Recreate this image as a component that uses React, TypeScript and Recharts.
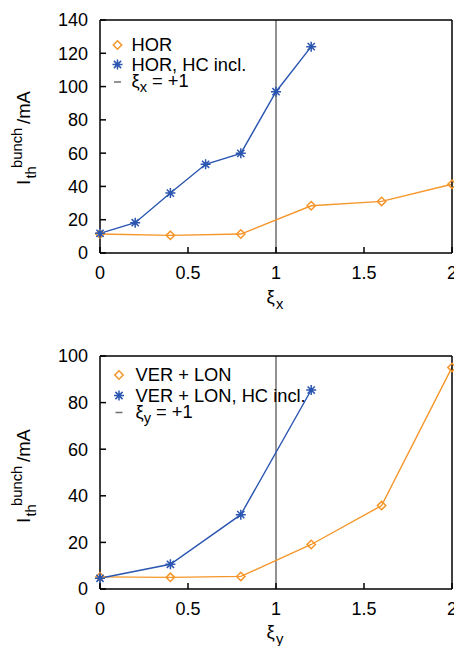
import { LineChart, Line, XAxis, YAxis, ReferenceLine } from "recharts";

// top panel: horizontal
const horX = [0, 0.4, 0.8, 1.2, 1.6, 2.0];
const horI = [11.4, 10.6, 11.4, 28.4, 31, 41.3];
const horHcX = [0, 0.2, 0.4, 0.6, 0.8, 1.0, 1.2];
const horHcI = [11.8, 18.2, 36, 53.3, 59.9, 96.9, 124];

// bottom panel: vertical + longitudinal
const verX = [0, 0.4, 0.8, 1.2, 1.6, 2.0];
const verI = [5.2, 5.0, 5.4, 19.1, 35.8, 95.1];
const verHcX = [0, 0.4, 0.8, 1.2];
const verHcI = [4.6, 10.6, 31.9, 85.4];

const xTicks = [0, 0.5, 1, 1.5, 2];
const yTicksTop = [0, 20, 40, 60, 80, 100, 120, 140];
const yTicksBottom = [0, 20, 40, 60, 80, 100];

const ORANGE = "#f5962a";
const BLUE = "#2a55b0";
const GREY = "#6f6f6f";
const FONT = "'Liberation Sans', Arial, Helvetica, sans-serif";

const zip = (xs: number[], ys: number[]) => xs.map((x, i) => ({ x, y: ys[i] }));

const tickFont = { fill: "#000", fontSize: 18, fontFamily: FONT };
const frame = { stroke: "#000", strokeWidth: 1.5 };

const diamond = (props: any) => {
  const { cx, cy, index } = props;
  const r = 4.2;
  return (
    <path
      key={`dm-${index}`}
      d={`M${cx},${cy - r}L${cx + r},${cy}L${cx},${cy + r}L${cx - r},${cy}Z`}
      fill="none"
      stroke={ORANGE}
      strokeWidth={1.5}
    />
  );
};

const star = (props: any) => {
  const { cx, cy, index } = props;
  const r = 5;
  const d = 3.6;
  return (
    <path
      key={`st-${index}`}
      d={`M${cx - r},${cy}H${cx + r}M${cx},${cy - r}V${cy + r}M${cx - d},${cy - d}L${cx + d},${cy + d}M${cx - d},${cy + d}L${cx + d},${cy - d}`}
      stroke={BLUE}
      strokeWidth={1.5}
    />
  );
};

function Panel(props: {
  top: number;
  height: number;
  marginTop: number;
  marginBottom: number;
  yMax: number;
  yTicks: number[];
  a: { x: number; y: number }[];
  b: { x: number; y: number }[];
}) {
  return (
    <div style={{ position: "absolute", left: 0, top: props.top }}>
      <LineChart
        width={470}
        height={props.height}
        margin={{ top: props.marginTop, right: 17, bottom: props.marginBottom, left: 40 }}
      >
        <XAxis
          type="number"
          dataKey="x"
          domain={[0, 2]}
          ticks={xTicks}
          interval={0}
          tickSize={-6}
          tickMargin={19}
          height={30}
          axisLine={frame}
          tickLine={frame}
          tick={tickFont}
        />
        <XAxis
          xAxisId="top"
          orientation="top"
          type="number"
          domain={[0, 2]}
          ticks={xTicks}
          interval={0}
          tickSize={-6}
          height={1}
          axisLine={frame}
          tickLine={frame}
          tick={false}
        />
        <YAxis
          type="number"
          domain={[0, props.yMax]}
          ticks={props.yTicks}
          interval={0}
          tickSize={-6}
          tickMargin={18}
          width={60}
          axisLine={frame}
          tickLine={frame}
          tick={tickFont}
        />
        <YAxis
          yAxisId="right"
          orientation="right"
          type="number"
          domain={[0, props.yMax]}
          ticks={props.yTicks}
          interval={0}
          tickSize={-6}
          width={1}
          axisLine={frame}
          tickLine={frame}
          tick={false}
        />
        <ReferenceLine x={1} stroke={GREY} strokeWidth={1.5} />
        <Line
          data={props.a}
          dataKey="y"
          type="linear"
          stroke={ORANGE}
          strokeWidth={1.4}
          dot={diamond}
          activeDot={false}
          isAnimationActive={false}
        />
        <Line
          data={props.b}
          dataKey="y"
          type="linear"
          stroke={BLUE}
          strokeWidth={1.4}
          dot={star}
          activeDot={false}
          isAnimationActive={false}
        />
      </LineChart>
    </div>
  );
}

function YTitle({ x, y }: { x: number; y: number }) {
  return (
    <g transform={`translate(${x},${y}) rotate(-90)`} fontFamily={FONT} fill="#000">
      <text x={0} y={0} fontSize={18.5}>I</text>
      <text x={6.5} y={6} fontSize={14.8}>th</text>
      <text x={17} y={-8.5} fontSize={14.8}>bunch</text>
      <text x={61} y={0} fontSize={18.5}>/mA</text>
    </g>
  );
}

function XTitle({ x, y, sub }: { x: number; y: number; sub: string }) {
  return (
    <g fontFamily={FONT} fill="#000">
      <text x={x - 9.5} y={y} fontSize={18.5}>ξ</text>
      <text x={x} y={y + 6} fontSize={14.8}>{sub}</text>
    </g>
  );
}

function LegendBox(props: {
  mx: number;
  tx: number;
  rows: number[];
  a: string;
  b: string;
  sub: string;
}) {
  const { mx, tx, rows } = props;
  const r = 4.2;
  const s = 5;
  const d = 3.6;
  const c1 = rows[0] - 6;
  const c2 = rows[1] - 6;
  const c3 = rows[2] - 5;
  return (
    <g fontFamily={FONT} fontSize={18.3} fill="#000">
      <path
        d={`M${mx},${c1 - r}L${mx + r},${c1}L${mx},${c1 + r}L${mx - r},${c1}Z`}
        fill="none"
        stroke={ORANGE}
        strokeWidth={1.5}
      />
      <text x={tx} y={rows[0]}>{props.a}</text>
      <path
        d={`M${mx - s},${c2}H${mx + s}M${mx},${c2 - s}V${c2 + s}M${mx - d},${c2 - d}L${mx + d},${c2 + d}M${mx - d},${c2 + d}L${mx + d},${c2 - d}`}
        stroke={BLUE}
        strokeWidth={1.5}
      />
      <text x={tx} y={rows[1]}>{props.b}</text>
      <line x1={mx - 3.5} x2={mx + 3.5} y1={c3} y2={c3} stroke={GREY} strokeWidth={1.5} />
      <text x={tx} y={rows[2]}>
        ξ<tspan fontSize={14.6} dy={5}>{props.sub}</tspan>
        <tspan dy={-5}> = +1</tspan>
      </text>
    </g>
  );
}

export default function App() {
  return (
    <div
      style={{
        position: "absolute",
        left: 0,
        top: 0,
        width: 454,
        height: 646,
        overflow: "hidden",
        background: "#fff",
      }}
    >
      <Panel
        top={0}
        height={320}
        marginTop={19}
        marginBottom={37}
        yMax={140}
        yTicks={yTicksTop}
        a={zip(horX, horI)}
        b={zip(horHcX, horHcI)}
      />
      <Panel
        top={336}
        height={310}
        marginTop={19}
        marginBottom={27}
        yMax={100}
        yTicks={yTicksBottom}
        a={zip(verX, verI)}
        b={zip(verHcX, verHcI)}
      />
      <svg
        width={454}
        height={646}
        style={{ position: "absolute", left: 0, top: 0, pointerEvents: "none" }}
      >
        <YTitle x={30} y={185} />
        <YTitle x={30} y={523} />
        <XTitle x={276} y={303} sub="x" />
        <XTitle x={276} y={638} sub="y" />
        <LegendBox mx={117.5} tx={131.5} rows={[51, 70.5, 87]} a="HOR" b="HOR, HC incl." sub="x" />
        <LegendBox
          mx={119}
          tx={135.5}
          rows={[381, 401.5, 417.5]}
          a="VER + LON"
          b="VER + LON, HC incl."
          sub="y"
        />
      </svg>
    </div>
  );
}
